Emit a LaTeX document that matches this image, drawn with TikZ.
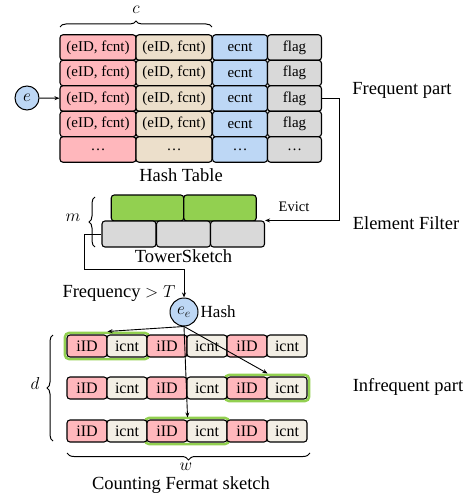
\documentclass[tikz,border=0pt]{standalone}
\usepackage{fontspec}
\setmainfont{Liberation Serif}
\usetikzlibrary{positioning,arrows.meta,calc,fit,backgrounds,decorations.pathreplacing}
\definecolor{rosa}{RGB}{255,183,188}
\definecolor{arena}{RGB}{236,223,203}
\definecolor{celeste}{RGB}{189,215,245}
\definecolor{gris}{RGB}{217,217,217}
\definecolor{verde}{RGB}{146,208,80}
\definecolor{crema}{RGB}{243,239,229}

\begin{document}
\begin{tikzpicture}[x=1pt, y=-1pt,
  celda/.style={draw, line width=1.1pt, rounded corners=3pt, inner sep=0pt,
                minimum height=25.5pt, font=\fontsize{15}{15}\selectfont},
  casilla/.style={celda, minimum width=40pt, minimum height=22pt,
                  font=\fontsize{16}{16}\selectfont},
  nota/.style={font=\fontsize{18.5}{18.5}\selectfont, inner sep=1pt},
  bola/.style={circle, draw, line width=1pt, fill=celeste, inner sep=0pt,
               font=\fontsize{18}{18}\selectfont},
  flecha/.style={-{Stealth[length=5pt,width=4pt]}, line width=0.9pt},
  llave/.style={decorate, decoration={brace, amplitude=6pt}, line width=1pt},
  resalte/.style={draw=verde, line width=2.5pt, rounded corners=4pt, inner sep=1.5pt}]
  \useasboundingbox (0,0) rectangle (474,497);

  % hash table
  \foreach \r/\y in {1/47.5,2/73,3/98.5,4/124} {
    \node[celda, fill=rosa, minimum width=76pt] (ht-\r-1) at (98,\y) {(eID, fcnt)};
    \node[celda, fill=arena, minimum width=76pt] (ht-\r-2) at (174,\y) {(eID, fcnt)};
    \node[celda, fill=celeste, minimum width=55pt] (ht-\r-3) at (240,\y) {ecnt};
    \node[celda, fill=gris, minimum width=54pt] (ht-\r-4) at (294.5,\y) {flag};
  }
  \node[celda, fill=rosa, minimum width=76pt] (ht-5-1) at (98,149.5) {\dots};
  \node[celda, fill=arena, minimum width=76pt] (ht-5-2) at (174,149.5) {\dots};
  \node[celda, fill=celeste, minimum width=55pt] (ht-5-3) at (240,149.5) {\dots};
  \node[celda, fill=gris, minimum width=54pt] (ht-5-4) at (294.5,149.5) {\dots};
  \draw[llave] (60,27) -- (212,27);
  \node[nota] (lc) at (136,10) {$c$};
  \node[nota] (htab) at (181,175) {Hash Table};
  \node[bola, minimum size=24pt] (e) at (27,98) {$e$};
  \draw[flecha] (e) -- (ht-3-1);
  \node[nota] (fp) at (402,90) {Frequent part};

  % element filter
  \node[celda, fill=verde, minimum width=72.5pt, minimum height=26pt] (tv-1) at (147.5,208) {};
  \node[celda, fill=verde, minimum width=72.5pt, minimum height=26pt] (tv-2) at (220,208) {};
  \foreach \i/\x in {1/129,2/183.5,3/237.5}
    \node[celda, fill=gris, minimum width=54pt, minimum height=26pt] (ts-\i) at (\x,234) {};
  \draw[llave] (95,247) -- (95,197);
  \node[nota] (lm) at (73,218) {$m$};
  \node[nota, below=1pt of ts-2] (tw) {TowerSketch};
  \draw[flecha] (ht-3-4.east) -- ++(17,0) |- (ts-3.north east);
  \node[font=\fontsize{14.5}{14.5}\selectfont] (ev) at (294,207) {Evict};
  \node[nota] (ef) at (406,223) {Element Filter};

  % counting fermat sketch
  \node[bola, minimum size=28pt] (ee) at (184,312) {$e_e$};
  \node[nota, right=1pt of ee, font=\fontsize{17}{17}\selectfont] (hs) {Hash};
  \node[nota] (fq) at (119,293) {Frequency $>T$};
  \draw[flecha] (ts-1.west) -- ++(-17,0) |- ([yshift=28pt]ee.north) -- (ee.north);
  \foreach \f/\y in {1/346,2/388,3/431}
    \foreach \p in {0,1,2} {
      \node[casilla, fill=rosa] (id-\f-\p) at ({87+80*\p},\y) {iID};
      \node[casilla, fill=crema] (cn-\f-\p) at ({127+80*\p},\y) {icnt};
    }
  \begin{scope}[on background layer]
    \node[resalte, fit=(id-1-0)(cn-1-0)] (hl-1) {};
    \node[resalte, fit=(id-2-2)(cn-2-2)] (hl-2) {};
    \node[resalte, fit=(id-3-1)(cn-3-1)] (hl-3) {};
  \end{scope}
  \draw[flecha] (ee.south) -- ([yshift=3pt]id-1-0.north east);
  \draw[flecha] (ee.south) -- ([yshift=3pt]id-2-2.north east);
  \draw[flecha] (ee.south) -- ([yshift=2pt]id-3-1.north east);
  \draw[llave] (53,441) -- (53,335);
  \node[nota] (ld) at (35,383) {$d$};
  \draw[llave, decoration={amplitude=7pt}] (310,453) -- (67,453);
  \node[nota, inner sep=0pt] (lw) at (186,467) {$w$};
  \node[nota, inner sep=0pt] (cfs) at (181,485) {Counting Fermat sketch};
  \node[nota] (ip) at (408,387) {Infrequent part};
\end{tikzpicture}
\end{document}
